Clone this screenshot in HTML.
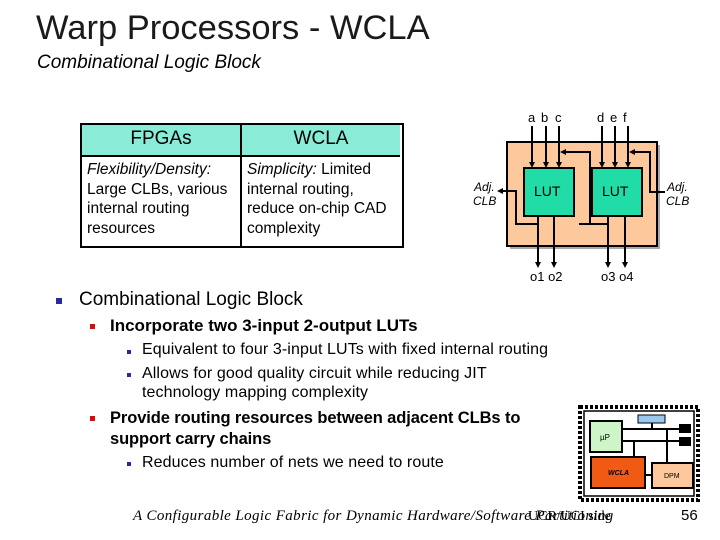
<!DOCTYPE html>
<html><head><meta charset="utf-8"><style>
body{margin:0;width:720px;height:540px;background:#fff;position:relative;overflow:hidden;font-family:"Liberation Sans","DejaVu Sans",sans-serif;color:#000}
.a{position:absolute;white-space:nowrap}
.sq{position:absolute}
</style></head><body>
<div class="a" style="left:36px;top:9px;font-size:34.5px;color:#1a1a1a">Warp Processors - WCLA</div>
<div class="a" style="left:37px;top:52px;font-size:19px;font-style:italic">Combinational Logic Block</div>

<div class="a" style="left:80px;top:123px;width:320px;height:121px;border:2px solid #000;background:#fff"></div>
<div class="a" style="left:82px;top:125px;width:318px;height:30px;background:#88ecd6;border-bottom:2px solid #000"></div>
<div class="a" style="left:240px;top:125px;width:2px;height:121px;background:#000"></div>
<div class="a" style="left:82px;top:128px;width:158px;text-align:center;font-size:19px">FPGAs</div>
<div class="a" style="left:242px;top:128px;width:158px;text-align:center;font-size:19px">WCLA</div>
<div class="a" style="left:87px;top:160px;font-size:15.5px;line-height:19.5px"><i>Flexibility/Density:</i><br>Large CLBs, various<br>internal routing<br>resources</div>
<div class="a" style="left:247px;top:160px;font-size:15.5px;line-height:19.5px"><i>Simplicity:</i> Limited<br>internal routing,<br>reduce on-chip CAD<br>complexity</div>

<svg class="a" style="left:0;top:0" width="720" height="540">
<defs><marker id="ar" markerUnits="userSpaceOnUse" markerWidth="6" markerHeight="6" refX="4" refY="3" orient="auto"><path d="M0,0L6,3L0,6z" fill="#000"/></marker></defs>
<rect x="510" y="145" width="150" height="104" fill="#aaa"/>
<rect x="507" y="142" width="150" height="104" fill="#fcc89c" stroke="#000" stroke-width="2"/>
<rect x="524" y="168" width="50" height="48" fill="#22dca8" stroke="#000" stroke-width="2"/>
<rect x="592" y="168" width="50" height="48" fill="#22dca8" stroke="#000" stroke-width="2"/>
<g stroke="#000" stroke-width="2" fill="none">
<line x1="532" y1="126" x2="532" y2="166" marker-end="url(#ar)"/>
<line x1="546" y1="126" x2="546" y2="166" marker-end="url(#ar)"/>
<line x1="559" y1="126" x2="559" y2="166" marker-end="url(#ar)"/>
<line x1="602" y1="126" x2="602" y2="166" marker-end="url(#ar)"/>
<line x1="615" y1="126" x2="615" y2="166" marker-end="url(#ar)"/>
<line x1="628" y1="126" x2="628" y2="166" marker-end="url(#ar)"/>
<polyline points="590,225 590,152 562,152" marker-end="url(#ar)"/>
<polyline points="665,192 650,192 650,152 631,152" marker-end="url(#ar)"/>
<line x1="538" y1="216" x2="538" y2="266" marker-end="url(#ar)"/>
<line x1="554" y1="216" x2="554" y2="266" marker-end="url(#ar)"/>
<line x1="608" y1="216" x2="608" y2="266" marker-end="url(#ar)"/>
<line x1="625" y1="216" x2="625" y2="266" marker-end="url(#ar)"/>
<polyline points="538,224 516,224 516,191 499,191" marker-end="url(#ar)"/>
<polyline points="608,224 580,224 580,225"/>
</g>
<g font-family="Liberation Sans,sans-serif" font-size="13">
<text x="528" y="122">a</text><text x="541" y="122">b</text><text x="555" y="122">c</text>
<text x="597" y="122">d</text><text x="610" y="122">e</text><text x="623" y="122">f</text>
<text x="534" y="196" font-size="14">LUT</text><text x="602" y="196" font-size="14">LUT</text>
<text x="530" y="281">o1 o2</text><text x="601" y="281">o3 o4</text>
<text x="474" y="191" font-style="italic" font-size="12">Adj.</text><text x="473" y="205" font-style="italic" font-size="12">CLB</text>
<text x="667" y="191" font-style="italic" font-size="12">Adj.</text><text x="666" y="205" font-style="italic" font-size="12">CLB</text>
</g>

<rect x="580" y="407" width="118" height="93" fill="#fff" stroke="#000" stroke-width="4" stroke-dasharray="3,2"/>
<rect x="584" y="411" width="110" height="85" fill="#fff" stroke="#000" stroke-width="1.5"/>
<rect x="638" y="415" width="27" height="8" fill="#9cc8f0" stroke="#000"/>
<rect x="590" y="421" width="32" height="31" fill="#cdf5c8" stroke="#000" stroke-width="2"/>
<rect x="591" y="457" width="54" height="31" fill="#f05a14" stroke="#000" stroke-width="2"/>
<rect x="652" y="463" width="41" height="25" fill="#fcc89c" stroke="#000" stroke-width="2"/>
<rect x="679" y="424" width="12" height="9" fill="#000"/><rect x="679" y="437" width="12" height="9" fill="#000"/>
<g stroke="#000" stroke-width="2" fill="none">
<line x1="622" y1="429" x2="679" y2="429"/><line x1="622" y1="441" x2="679" y2="441"/>
<line x1="652" y1="429" x2="652" y2="423"/><line x1="667" y1="429" x2="667" y2="463"/>
<line x1="634" y1="441" x2="634" y2="457"/><line x1="652" y1="475" x2="645" y2="475"/>
</g>
<g font-family="Liberation Sans,sans-serif" font-size="8">
<text x="600" y="440">µP</text><text x="608" y="475" font-style="italic" font-weight="bold" font-size="7">WCLA</text><text x="664" y="478" font-size="7">DPM</text>
</g>
</svg>

<div class="sq" style="left:56px;top:298px;width:6px;height:6px;background:#2a2aa0"></div>
<div class="a" style="left:79px;top:289px;font-size:19px">Combinational Logic Block</div>
<div class="sq" style="left:90px;top:324px;width:5px;height:5px;background:#d01010"></div>
<div class="a" style="left:110px;top:316px;font-size:17px;font-weight:bold;letter-spacing:0px">Incorporate two 3-input 2-output LUTs</div>
<div class="sq" style="left:127px;top:350px;width:4px;height:4px;background:#2a2aa0"></div>
<div class="a" style="left:142px;top:341px;font-size:16px;letter-spacing:0.1px">Equivalent to four 3-input LUTs with fixed internal routing</div>
<div class="sq" style="left:127px;top:373px;width:4px;height:4px;background:#2a2aa0"></div>
<div class="a" style="left:142px;top:364px;font-size:16px;line-height:19px;letter-spacing:0.1px">Allows for good quality circuit while reducing JIT<br>technology mapping complexity</div>
<div class="sq" style="left:90px;top:416px;width:5px;height:5px;background:#d01010"></div>
<div class="a" style="left:110px;top:408px;font-size:16.5px;line-height:21px;font-weight:bold;letter-spacing:-0.1px">Provide routing resources between adjacent CLBs to<br>support carry chains</div>
<div class="sq" style="left:127px;top:462px;width:4px;height:4px;background:#2a2aa0"></div>
<div class="a" style="left:142px;top:454px;font-size:16px;letter-spacing:0.1px">Reduces number of nets we need to route</div>

<div class="a" style="left:133px;top:508px;font-size:15px;letter-spacing:0.4px;font-family:'Liberation Serif',serif;font-style:italic">A Configurable Logic Fabric for Dynamic Hardware/Software Partitioning</div>
<div class="a" style="left:528px;top:509px;font-size:14px;font-family:'Liberation Serif',serif">UCR/UCI side</div>
<div class="a" style="left:681px;top:507px;font-size:15px">56</div>
</body></html>
